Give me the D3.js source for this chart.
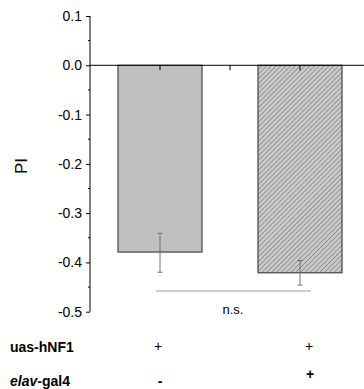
<!DOCTYPE html>
<html>
<head>
<meta charset="utf-8">
<script src="https://cdn.jsdelivr.net/npm/d3@7"></script>
<style>
html,body{margin:0;padding:0;background:#fff;}
svg{display:block;font-family:"Liberation Sans",Arial,sans-serif;}
</style>
</head>
<body>
<svg id="chart" width="364" height="389"></svg>
<script>
const categories = ["control", "elav>hNF1"];
const means = [-0.379, -0.421];
const errUpper = [-0.341, -0.396];
const errLower = [-0.420, -0.446];
const yTicks = [0.1, 0.0, -0.1, -0.2, -0.3, -0.4, -0.5];
const uasRow = ["+", "+"];
const elavRow = ["-", "+"];

const svg = d3.select("#chart");
const y = d3.scaleLinear().domain([-0.5, 0.1]).range([311.7, 16]);
const x = d3.scalePoint().domain(categories).range([90, 370]).padding(0.5);
const barW = x.step() * 0.6;

// hatch pattern
const defs = svg.append("defs");
const pat = defs.append("pattern").attr("id", "hatch").attr("patternUnits", "userSpaceOnUse")
  .attr("width", 3.4).attr("height", 3.4).attr("patternTransform", "rotate(45)");
pat.append("rect").attr("width", 3.4).attr("height", 3.4).attr("fill", "#cbcbcb");
pat.append("line").attr("x1", 0).attr("y1", 0).attr("x2", 0).attr("y2", 3.4)
  .attr("stroke", "#858585").attr("stroke-width", 1.5);

// y axis
const yAxis = d3.axisLeft(y).tickValues(yTicks).tickFormat(d3.format(".1f")).tickSize(4).tickPadding(4);
const ya = svg.append("g").attr("transform", "translate(90,0)").call(yAxis);
ya.select(".domain").attr("stroke", "#000").attr("d", `M0,${y(0.1)}V${y(-0.5)}`);
ya.selectAll(".tick line").attr("stroke", "#000");
ya.selectAll(".tick text").attr("font-size", 14).attr("fill", "#000")
  .text(d => d3.format(".1f")(d).replace("−", "-"));
// minor ticks
const minor = d3.range(-0.45, 0.1, 0.1);
ya.selectAll(".minor").data(minor).join("line").attr("class", "minor")
  .attr("x1", -2).attr("x2", 0).attr("y1", d => y(d)).attr("y2", d => y(d)).attr("stroke", "#000");

// bars
svg.selectAll(".bar").data(categories).join("rect").attr("class", "bar")
  .attr("x", d => x(d) - barW / 2)
  .attr("width", barW)
  .attr("y", y(0))
  .attr("height", (d, i) => y(means[i]) - y(0))
  .attr("fill", (d, i) => i === 0 ? "#c0c0c0" : "url(#hatch)")
  .attr("stroke", "#444").attr("stroke-width", 1.2);

// zero line
svg.append("line").attr("x1", 90).attr("x2", 364).attr("y1", y(0)).attr("y2", y(0))
  .attr("stroke", "#000").attr("stroke-width", 1);
// ticks on zero line
const topTicks = [x(categories[0]), (x(categories[0]) + x(categories[1])) / 2, x(categories[1])];
svg.selectAll(".ztick").data(topTicks).join("line").attr("class", "ztick")
  .attr("x1", d => d).attr("x2", d => d).attr("y1", y(0)).attr("y2", y(0) + 5)
  .attr("stroke", "#000");

// error bars
const eb = svg.selectAll(".eb").data(categories).join("g").attr("class", "eb")
  .attr("stroke", "#707070").attr("stroke-width", 1);
eb.append("line").attr("x1", d => x(d)).attr("x2", d => x(d))
  .attr("y1", (d, i) => y(errUpper[i])).attr("y2", (d, i) => y(errLower[i]));
eb.append("line").attr("x1", d => x(d) - 2.5).attr("x2", d => x(d) + 2.5)
  .attr("y1", (d, i) => y(errUpper[i])).attr("y2", (d, i) => y(errUpper[i]));
eb.append("line").attr("x1", d => x(d) - 2.5).attr("x2", d => x(d) + 2.5)
  .attr("y1", (d, i) => y(errLower[i])).attr("y2", (d, i) => y(errLower[i]));

// significance line
svg.append("line").attr("x1", x(categories[0]) - 4).attr("x2", x(categories[1]) + 11)
  .attr("y1", 291).attr("y2", 291).attr("stroke", "#999").attr("stroke-width", 1);
svg.append("text").attr("x", 233).attr("y", 314).attr("text-anchor", "middle")
  .attr("font-size", 13).attr("fill", "#000").text("n.s.");

// y label
svg.append("text").attr("transform", "translate(27,166) rotate(-90)")
  .attr("text-anchor", "middle").attr("font-size", 17).attr("fill", "#000").text("PI");

// genotype rows
svg.append("text").attr("x", 10).attr("y", 352).attr("font-size", 14).attr("font-weight", "bold").text("uas-hNF1");
const el = svg.append("text").attr("x", 10).attr("y", 386).attr("font-size", 14).attr("font-weight", "bold");
el.append("tspan").attr("font-style", "italic").text("elav");
el.append("tspan").text("-gal4");

svg.selectAll(".uas").data(uasRow).join("text").attr("class", "uas")
  .attr("x", (d, i) => x(categories[i]) - 2 + i * 11).attr("y", 351).attr("text-anchor", "middle")
  .attr("font-size", 14).text(d => d);
svg.selectAll(".elav").data(elavRow).join("text").attr("class", "elav")
  .attr("x", (d, i) => x(categories[i]) + i * 10).attr("y", (d, i) => i === 0 ? 386 : 379)
  .attr("text-anchor", "middle").attr("font-size", 14).attr("font-weight", "bold").text(d => d);
</script>
</body>
</html>
